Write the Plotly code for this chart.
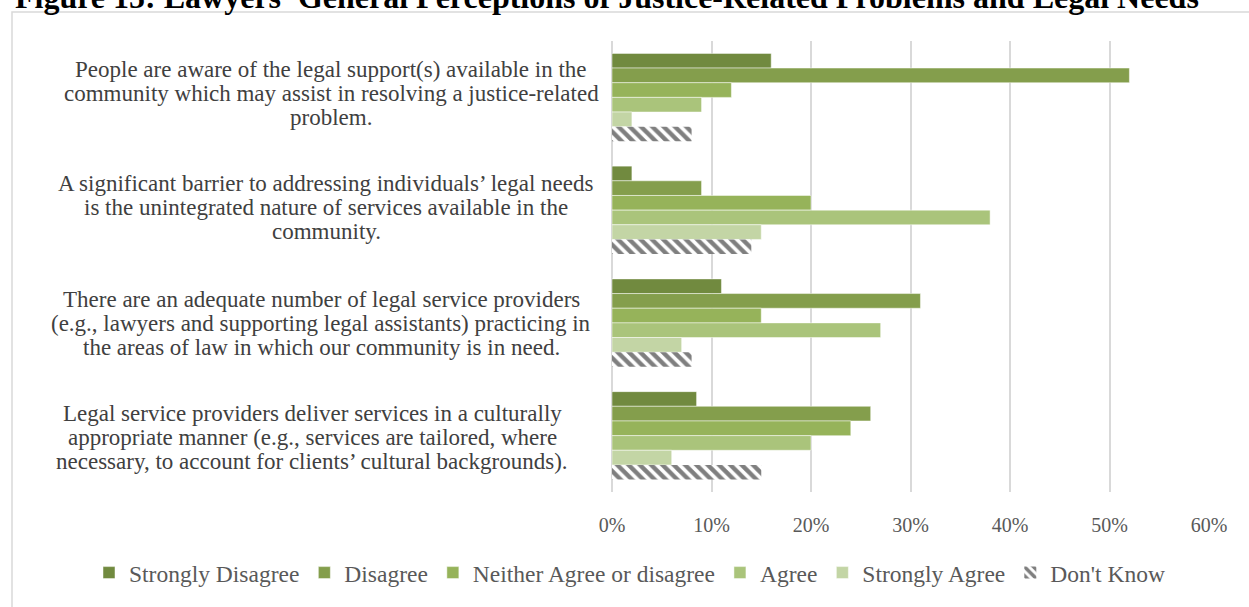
import plotly.graph_objects as go

# Survey statements (top to bottom), each given as its wrapped lines
statements = [
    ["People are aware of the legal support(s) available in the",
     "community which may assist in resolving a justice-related",
     "problem."],
    ["A significant barrier to addressing individuals’ legal needs",
     "is the unintegrated nature of services available in the",
     "community."],
    ["There are an adequate number of legal service providers",
     "(e.g., lawyers and supporting legal assistants) practicing in",
     "the areas of law in which our community is in need."],
    ["Legal service providers deliver services in a culturally",
     "appropriate manner (e.g., services are tailored, where",
     "necessary, to account for clients’ cultural backgrounds)."],
]
categories = [" ".join(lines) for lines in statements]
responses = ["Strongly Disagree", "Disagree", "Neither Agree or disagree",
             "Agree", "Strongly Agree", "Don't Know"]
strongly_disagree = [0.16, 0.02, 0.11, 0.085]
disagree = [0.52, 0.09, 0.31, 0.26]
neither = [0.12, 0.20, 0.15, 0.24]
agree = [0.09, 0.38, 0.27, 0.20]
strongly_agree = [0.02, 0.15, 0.07, 0.06]
dont_know = [0.08, 0.14, 0.08, 0.15]
x_ticks = [0, 0.1, 0.2, 0.3, 0.4, 0.5, 0.6]

series = [strongly_disagree, disagree, neither, agree, strongly_agree, dont_know]
colors = ["#718A3F", "#849E4C", "#96B35A", "#AAC47B", "#C3D5A5", "#000000"]

serif = "Liberation Serif, Times New Roman, serif"
plot_w = 597  # plot area width in px, used to place side labels

fig = go.Figure()
for name, vals, col in zip(responses, series, colors):
    if name == "Don't Know":
        marker = dict(color="white",
                      pattern=dict(shape="\\", fgcolor="black", bgcolor="white",
                                   size=8, solidity=0.55),
                      line=dict(width=0))
    else:
        marker = dict(color=col, line=dict(color="rgba(255,255,255,0.6)", width=0.8))
    fig.add_trace(go.Bar(y=categories, x=vals, name=name, orientation="h",
                         marker=marker))

# Statement labels: centred lines to the left of the bars, 24 px apart
label_centres_px = [-281, -286, -291, -300]
label_offsets_px = [4, 3, -1, -2]
for cat, lines, cx, dy in zip(categories, statements, label_centres_px, label_offsets_px):
    n = len(lines)
    for k, line in enumerate(lines):
        fig.add_annotation(x=cx / plot_w, xref="paper", y=cat, yref="y",
                           text=line, showarrow=False, xanchor="center",
                           yanchor="middle", yshift=(n - 1) * 12 - 24 * k + dy,
                           font=dict(family=serif, size=23, color="#404040"))

# Chart title
fig.add_annotation(x=-599 / plot_w, xref="paper", y=1 + 44 / 452, yref="paper",
                   text="<b>Figure 15: Lawyers' General Perceptions of Justice-Related Problems and Legal Needs</b>",
                   showarrow=False, xanchor="left", yanchor="middle",
                   font=dict(family=serif, size=32, color="black"))

# Outer chart frame
fig.add_shape(type="rect", xref="paper", yref="paper",
              x0=-600 / plot_w, x1=1.1, y0=-0.3, y1=1 + 29 / 452,
              line=dict(color="#D9D9D9", width=1.5), fillcolor="rgba(0,0,0,0)",
              layer="below")

fig.update_layout(
    width=1249, height=607,
    margin=dict(l=612, r=40, t=41, b=112),
    paper_bgcolor="white", plot_bgcolor="white",
    barmode="group", bargap=0.22, bargroupgap=0,
    font=dict(family=serif, size=19, color="#595959"),
    showlegend=True,
    xaxis=dict(range=[0, 0.6], tickvals=x_ticks, tickformat=".0%",
               showgrid=True, gridcolor="#D9D9D9", gridwidth=2,
               zeroline=True, zerolinecolor="#D9D9D9", zerolinewidth=2,
               showline=False, ticks="outside", ticklen=15,
               tickcolor="rgba(0,0,0,0)",
               tickfont=dict(family=serif, size=20, color="#595959")),
    yaxis=dict(autorange="reversed", showticklabels=False, showgrid=False,
               zeroline=False, showline=False),
    legend=dict(orientation="h", x=-523 / plot_w, xanchor="left", y=-81 / 452,
                yanchor="middle", itemwidth=30,
                font=dict(family=serif, size=23.5, color="#595959"),
                traceorder="normal"),
)

fig.write_html("out.html")
